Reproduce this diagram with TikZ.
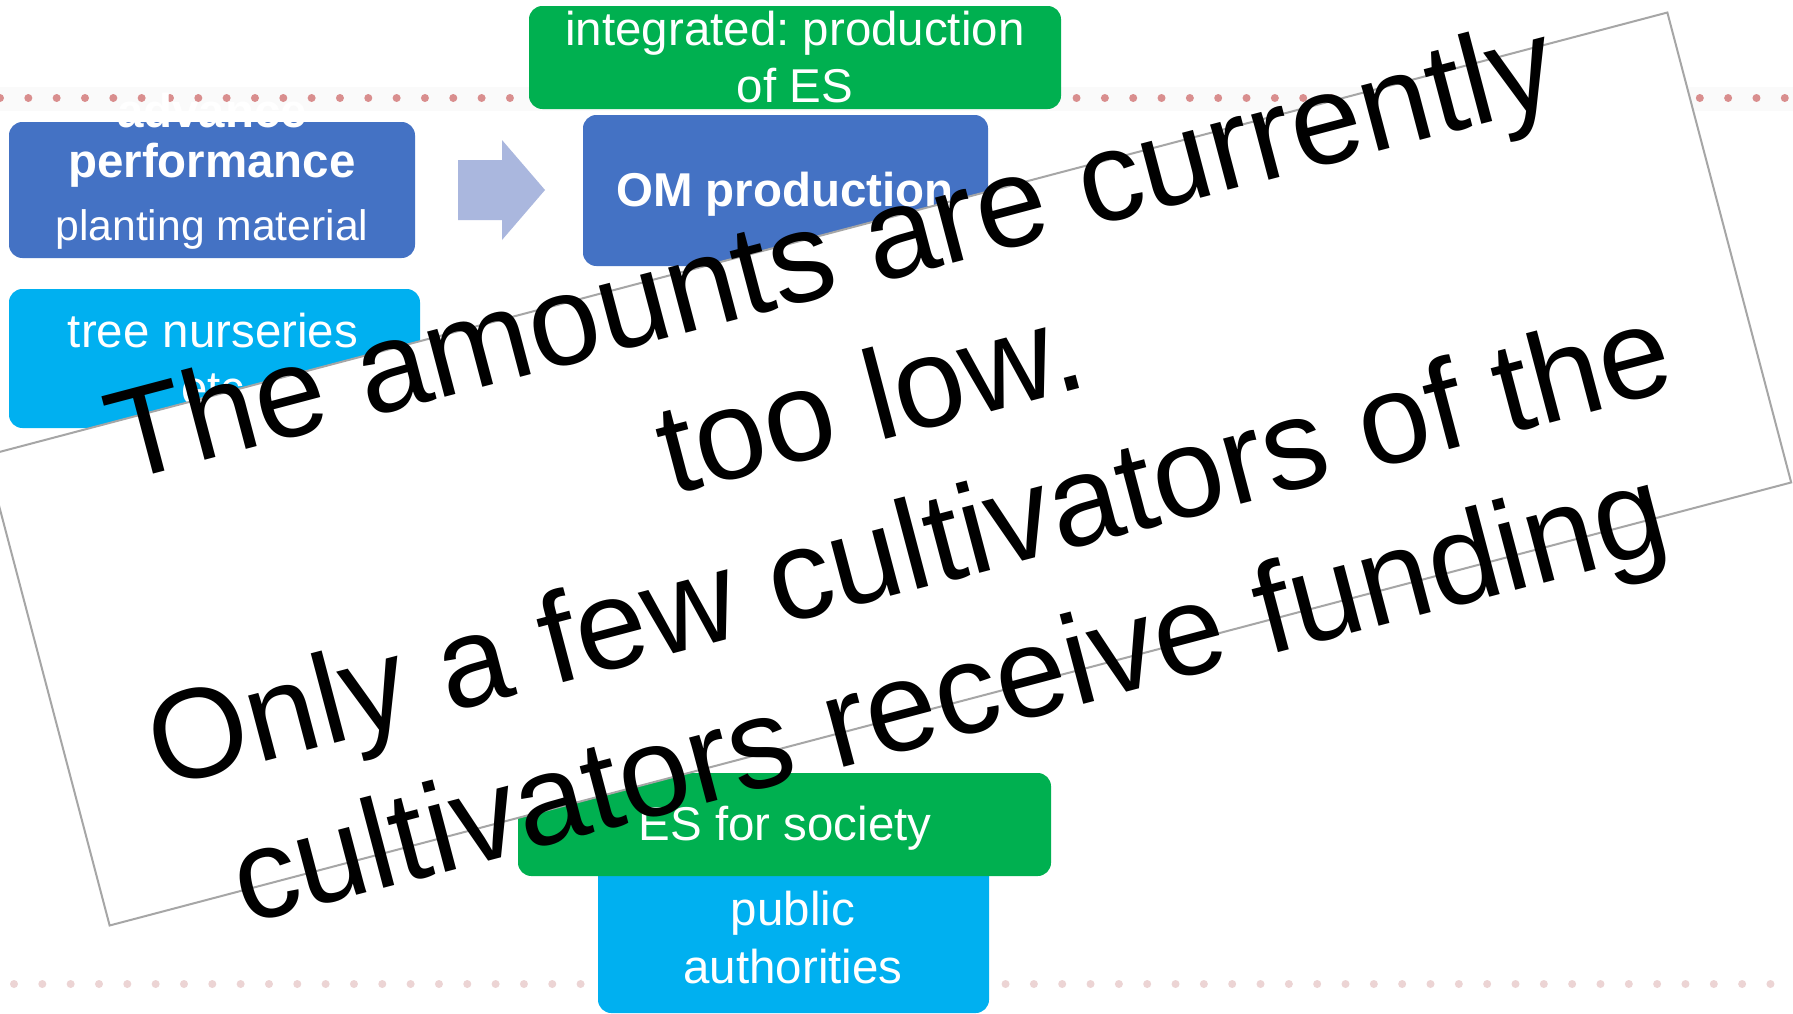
\documentclass[tikz,border=0pt]{standalone}
\usepackage{fontspec}
\setmainfont{Liberation Sans}
\frenchspacing

\definecolor{ombl}{RGB}{68,114,196}
\definecolor{esgr}{RGB}{0,176,80}
\definecolor{skyc}{RGB}{0,176,240}
\definecolor{arrc}{RGB}{170,183,222}
\definecolor{dotc}{RGB}{217,142,142}
\definecolor{dotl}{RGB}{236,212,212}
\definecolor{rimc}{RGB}{166,166,166}

\tikzset{
  box/.style={fill=#1, rounded corners=10pt, inner sep=0pt, outer sep=0pt},
  boxtext/.style={text=white, align=center, anchor=base, inner sep=0pt,
    font=\fontsize{35.6}{42.75}\selectfont},
  msg/.style={align=center, anchor=base, inner sep=0pt, rotate=14.76,
    font=\fontsize{95.8}{114.9}\selectfont}
}

\begin{document}
\begin{tikzpicture}[x=0.75pt,y=0.75pt,yscale=-1,xscale=1]
\useasboundingbox (0,0) rectangle (1793,1014);
\fill[white] (0,0) rectangle (1793,1014);
% dotted rules
\fill[black!2] (0,87) rectangle (1793,111);
\foreach \i in {0,...,63} \fill[dotc] (\i*28.33,98) circle (4);
\foreach \i in {0,...,63} \fill[dotl] (14+\i*28.33,984) circle (4);
% boxes
\node[box=esgr, minimum width=399pt, minimum height=77.25pt] (integ) at (795,57.5) {};
\node[box=ombl, minimum width=304.5pt, minimum height=102pt] (perf) at (212,190) {};
\node[box=ombl, minimum width=303.75pt, minimum height=113.25pt] (om) at (785.5,190.5) {};
\node[box=skyc, minimum width=308.25pt, minimum height=104.25pt] (nurs) at (214.5,358.5) {};
\node[box=skyc, minimum width=293.25pt, minimum height=113.25pt] (pub) at (793.5,937.5) {};
\node[box=esgr, minimum width=399.75pt, minimum height=77.25pt] (soc) at (784.5,824.5) {};
% box texts (base = last line)
\node[boxtext] (integtxt) at (795,102) {integrated: production\\of ES};
\node[boxtext] (perftxt) at (212,240) {\textbf{advance}\\[-5.25pt]\textbf{performance}\\[4.5pt]{\fontsize{32}{38}\selectfont planting material}};
\node[boxtext] (omtxt) at (785,206) {\textbf{OM production}};
\node[boxtext] (nurstxt) at (213,404) {tree nurseries\\etc};
\node[boxtext] (soctxt) at (785,840) {ES for society};
\node[boxtext] (pubtxt) at (793,983) {public\\[0.75pt]authorities};
% block arrow
\fill[arrc] (458,160) -- (502,160) -- (502,140) -- (545,190) -- (502,240) -- (502,220) -- (458,220) -- cycle;
% note over the chart
\begin{scope}[shift={(888.5,469)}, rotate=-14.76]
\draw[rimc, line width=1.5pt, fill=white] (-869.5,-243) rectangle (869.5,243);
\node[msg] (note) at (0,277) {The amounts are currently\\too low.\\Only a few cultivators of the\\cultivators receive funding};
\end{scope}
\end{tikzpicture}
\end{document}
